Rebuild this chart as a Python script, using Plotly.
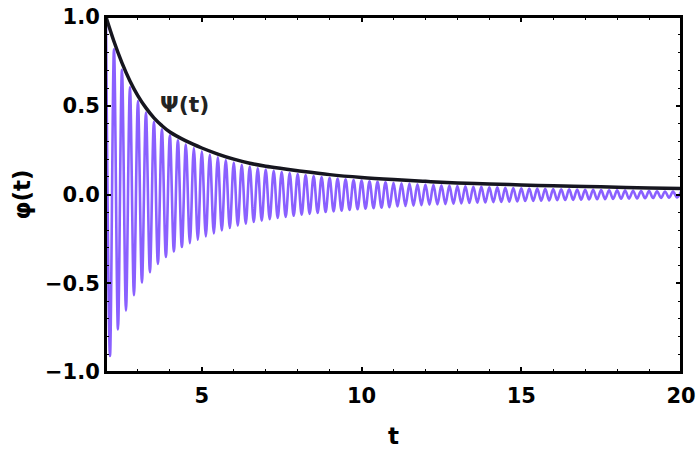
import numpy as np
import plotly.graph_objects as go

# envelope Psi(t)
psi_t = [2, 2.25, 2.5, 2.75, 3, 3.25, 3.5, 3.75, 4, 4.5, 5, 5.5, 6, 6.5, 7, 7.5,
         8, 9, 10, 11, 12, 13, 14, 15, 16, 17, 18, 19, 20]
psi_v = [1.0, 0.862, 0.742, 0.640, 0.556, 0.488, 0.432, 0.388, 0.352, 0.302, 0.262,
         0.228, 0.199, 0.176, 0.159, 0.146, 0.134, 0.112, 0.096, 0.084, 0.074, 0.065,
         0.059, 0.054, 0.049, 0.045, 0.041, 0.037, 0.034]

# phi(t) maxima at t = 2, 2.25, ..., 20
phi_peaks = [1.0, 0.818, 0.702, 0.606, 0.526, 0.462, 0.41, 0.368, 0.333, 0.305,
             0.282, 0.262, 0.243, 0.225, 0.209, 0.194, 0.180, 0.168, 0.157, 0.148,
             0.140, 0.133, 0.127, 0.121, 0.115, 0.109, 0.104, 0.099, 0.094, 0.090,
             0.086, 0.082, 0.078, 0.075, 0.072, 0.069, 0.066, 0.063, 0.061, 0.058,
             0.056, 0.054, 0.052, 0.050, 0.047, 0.046, 0.044, 0.043, 0.041, 0.040,
             0.038, 0.037, 0.035, 0.034, 0.033, 0.032, 0.031, 0.030, 0.029, 0.028,
             0.027, 0.026, 0.025, 0.024, 0.023, 0.022, 0.021, 0.020, 0.019, 0.018,
             0.017, 0.016, 0.015]

# phi(t) minima at t = 2.125, 2.375, ..., 19.875
phi_troughs = [-0.91, -0.76, -0.655, -0.568, -0.496, -0.438, -0.391, -0.352, -0.321,
               -0.296, -0.274, -0.255, -0.236, -0.219, -0.203, -0.189, -0.176, -0.165,
               -0.155, -0.147, -0.139, -0.132, -0.126, -0.120, -0.114, -0.109, -0.104,
               -0.099, -0.095, -0.091, -0.087, -0.083, -0.080, -0.077, -0.074, -0.071,
               -0.068, -0.065, -0.063, -0.060, -0.058, -0.056, -0.054, -0.052, -0.050,
               -0.048, -0.046, -0.045, -0.043, -0.042, -0.040, -0.039, -0.037, -0.036,
               -0.035, -0.034, -0.032, -0.031, -0.030, -0.029, -0.028, -0.027, -0.026,
               -0.025, -0.024, -0.023, -0.022, -0.021, -0.020, -0.019, -0.018, -0.017]

# alternate max / min on a half-period grid
phi_t = np.linspace(2, 20, len(phi_peaks) + len(phi_troughs))
phi_v = []
for i, p in enumerate(phi_peaks):
    phi_v.append(p)
    if i < len(phi_troughs):
        phi_v.append(phi_troughs[i])

font_fam = "DejaVu Sans, sans-serif"

fig = go.Figure()
fig.add_trace(go.Scatter(
    x=phi_t, y=phi_v, mode="lines",
    line=dict(color="#8a60ff", width=2.6, shape="spline", smoothing=1),
    showlegend=False, hoverinfo="skip",
))
fig.add_trace(go.Scatter(
    x=psi_t, y=psi_v, mode="lines",
    line=dict(color="#16161f", width=3.5, shape="spline"),
    showlegend=False, hoverinfo="skip",
))

fig.add_annotation(
    x=4.47, y=0.507, text="Ψ(t)", showarrow=False,
    font=dict(family=font_fam, size=22, color="#222", weight="bold"),
)

# frame round the plot area
fig.add_shape(type="rect", xref="paper", yref="paper", x0=0, x1=1, y0=0, y1=1,
              line=dict(color="black", width=2), layer="above")

axis_common = dict(
    showline=True, linecolor="black", linewidth=2, mirror="ticks",
    ticks="inside", ticklen=5, tickwidth=1.5, tickcolor="black",
    showgrid=False, zeroline=False, automargin=False, ticklabeloverflow="allow",
    tickfont=dict(family=font_fam, size=21, color="black", weight="bold"),
    title_font=dict(family=font_fam, size=23, color="black", weight="bold"),
)

fig.update_xaxes(
    range=[2, 20], tickmode="array", tickvals=[5, 10, 15, 20],
    minor=dict(tickmode="linear", tick0=0, dtick=1, ticks="inside", ticklen=3,
               tickcolor="black", tickwidth=1),
    title_text="t", title_standoff=21, ticklabelstandoff=4,
    **axis_common,
)
fig.update_yaxes(
    range=[-1, 1], tickmode="linear", tick0=-1, dtick=0.5, tickformat=".1f",
    minor=dict(tickmode="linear", tick0=0, dtick=0.1, ticks="inside", ticklen=3,
               tickcolor="black", tickwidth=1),
    title_text="φ(t)", title_standoff=8, ticklabelstandoff=0,
    **axis_common,
)

fig.update_layout(
    width=698, height=453,
    margin=dict(l=106, r=17, t=17, b=81),
    plot_bgcolor="white", paper_bgcolor="white",
)

# drop the default page margin so the figure sits at the window corner
fig.write_html("out.html", config={"displayModeBar": False},
               post_script="document.body.style.margin = '0';")
